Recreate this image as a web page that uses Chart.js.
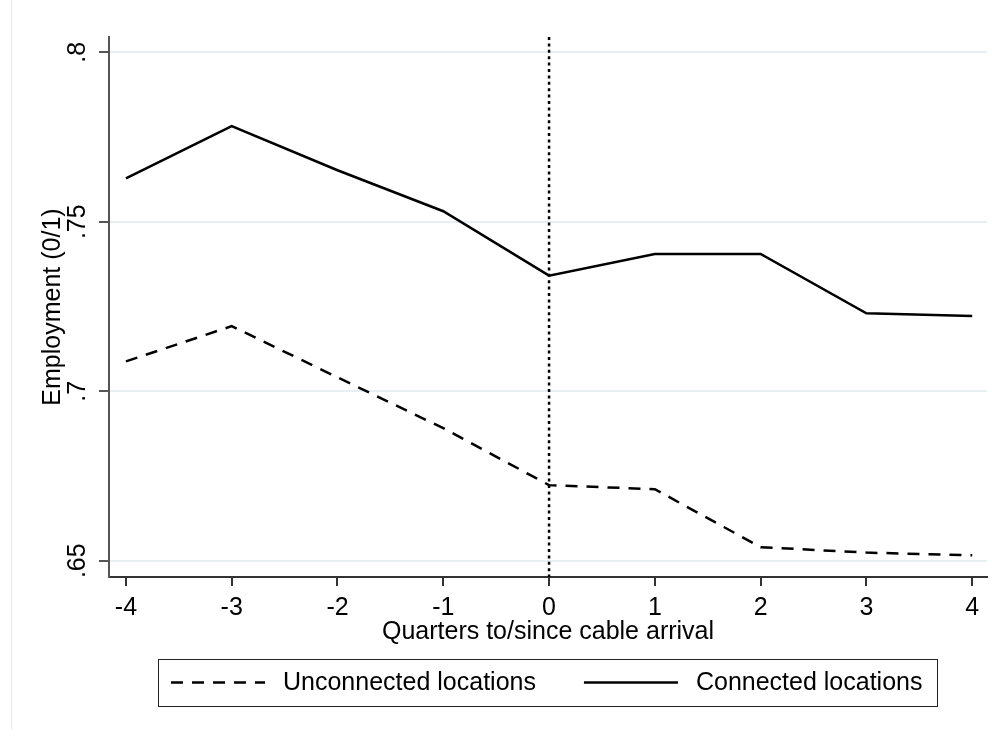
<!DOCTYPE html>
<html lang="en">
<head>
<meta charset="UTF-8">
<title>Employment around cable arrival</title>
<script src="https://cdn.jsdelivr.net/npm/chart.js"></script>
<style>
  html, body { margin: 0; padding: 0; background: #fff; }
</style>
</head>
<body>
<canvas id="myChart" width="1002" height="730"></canvas>
<script>
// Input data
const quarters = [-4, -3, -2, -1, 0, 1, 2, 3, 4];
const unconnected = [0.7088, 0.7192, 0.7041, 0.6891, 0.6723, 0.6711, 0.6540, 0.6524, 0.6516];
const connected = [0.7628, 0.7782, 0.7652, 0.7531, 0.7341, 0.7405, 0.7405, 0.7230, 0.7222];
const seriesLabels = ['Unconnected locations', 'Connected locations'];
const yTicks = [0.65, 0.70, 0.75, 0.80];
const yTickLabels = ['.65', '.7', '.75', '.8'];
const xTicks = [-4, -3, -2, -1, 0, 1, 2, 3, 4];
const cableQuarter = 0;

const yMin = 0.6452, yMax = 0.8045;
const xMin = -4.16, xMax = 4.14;
const FONT = '"Liberation Sans", Arial, sans-serif';

const toPoints = vals => quarters.map((q, i) => ({ x: q, y: vals[i] }));

// white page + faint frame line on the left
const background = {
    id: 'background',
    beforeDraw(chart) {
        const ctx = chart.ctx;
        ctx.save();
        ctx.fillStyle = '#fff';
        ctx.fillRect(0, 0, chart.width, chart.height);
        ctx.strokeStyle = '#e4ecef';
        ctx.lineWidth = 1;
        ctx.beginPath();
        ctx.moveTo(11.5, 0);
        ctx.lineTo(11.5, chart.height);
        ctx.stroke();
        ctx.restore();
    }
};

// Stata-style boxed legend below the x axis title
const boxLegend = {
    id: 'boxLegend',
    afterDraw(chart) {
        const ctx = chart.ctx;
        const area = chart.chartArea;
        const items = chart.data.datasets.filter(d => d.inLegend);
        const sampleW = 94, padL = 13, padR = 15, gapText = 18, gapItem = 48, h = 47;
        ctx.save();
        ctx.font = '25px ' + FONT;
        let total = padL + padR;
        items.forEach((d, i) => {
            total += sampleW + gapText + ctx.measureText(d.label).width + (i ? gapItem : 0);
        });
        const left = Math.round((area.left + area.right) / 2 - total / 2);
        const top = Math.round(area.bottom + 82);
        ctx.strokeStyle = '#222';
        ctx.lineWidth = 1;
        ctx.strokeRect(left + 0.5, top + 0.5, Math.round(total), h);
        const cy = top + h / 2;
        let x = left + padL;
        items.forEach((d, i) => {
            if (i) x += gapItem;
            ctx.beginPath();
            ctx.setLineDash(d.borderDash || []);
            ctx.lineWidth = d.borderWidth;
            ctx.strokeStyle = d.borderColor;
            ctx.moveTo(x, cy);
            ctx.lineTo(x + sampleW, cy);
            ctx.stroke();
            ctx.setLineDash([]);
            x += sampleW + gapText;
            ctx.fillStyle = '#000';
            ctx.textBaseline = 'middle';
            ctx.textAlign = 'left';
            ctx.fillText(d.label, x, cy + 1);
            x += ctx.measureText(d.label).width;
        });
        ctx.restore();
    }
};

const ctx = document.getElementById('myChart').getContext('2d');
const myChart = new Chart(ctx, {
    type: 'line',
    data: {
        datasets: [
            {
                label: seriesLabels[0],
                data: toPoints(unconnected),
                borderColor: '#000',
                borderWidth: 2.5,
                borderDash: [12, 9],
                pointRadius: 0,
                tension: 0,
                inLegend: true
            },
            {
                label: seriesLabels[1],
                data: toPoints(connected),
                borderColor: '#000',
                borderWidth: 2.5,
                pointRadius: 0,
                tension: 0,
                inLegend: true
            },
            {
                label: 'cable arrival',
                data: [{ x: cableQuarter, y: yMax }, { x: cableQuarter, y: yMin }],
                borderColor: '#000',
                borderWidth: 2.5,
                borderDash: [3, 3.4],
                pointRadius: 0,
                inLegend: false
            }
        ]
    },
    options: {
        responsive: false,
        animation: false,
        devicePixelRatio: 1,
        layout: { padding: { top: 37, right: 15, left: 0, bottom: 83 } },
        plugins: {
            legend: { display: false },
            tooltip: { enabled: false }
        },
        scales: {
            x: {
                type: 'linear',
                min: xMin,
                max: xMax,
                afterBuildTicks: s => { s.ticks = xTicks.map(v => ({ value: v })); },
                afterFit: s => { s.height = 70; },
                border: { color: '#333', width: 2 },
                grid: { drawOnChartArea: false, drawTicks: true, tickLength: 9, tickColor: '#333', lineWidth: 2 },
                ticks: {
                    color: '#000',
                    padding: 7,
                    maxRotation: 0,
                    font: { family: FONT, size: 25 },
                    callback: v => String(v)
                },
                title: {
                    display: true,
                    text: 'Quarters to/since cable arrival',
                    color: '#000',
                    font: { family: FONT, size: 25 },
                    padding: { top: 0, bottom: 0 }
                }
            },
            y: {
                min: yMin,
                max: yMax,
                afterBuildTicks: s => { s.ticks = yTicks.map(v => ({ value: v })); },
                afterFit: s => { s.width = 109; },
                border: { color: '#555', width: 2 },
                grid: { color: '#e8eef1', lineWidth: 2, tickLength: 10, tickColor: '#555' },
                ticks: {
                    color: '#000',
                    padding: 4,
                    minRotation: 90,
                    maxRotation: 90,
                    crossAlign: 'center',
                    font: { family: FONT, size: 25 },
                    callback: v => yTickLabels[yTicks.findIndex(t => Math.abs(t - v) < 1e-9)]
                },
                title: {
                    display: true,
                    text: 'Employment (0/1)',
                    color: '#000',
                    font: { family: FONT, size: 25 },
                    padding: { top: 38, bottom: 0 }
                }
            }
        }
    },
    plugins: [background, boxLegend]
});
</script>
</body>
</html>
